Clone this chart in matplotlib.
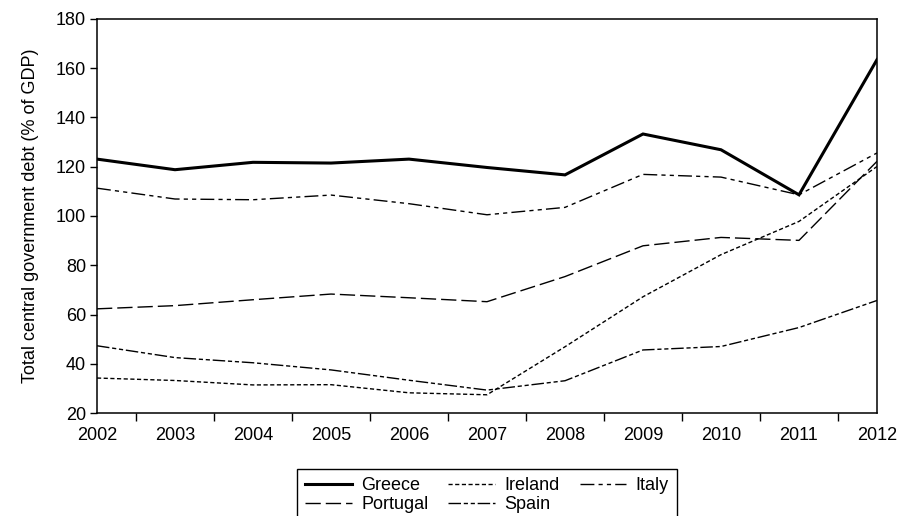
import numpy as np
import matplotlib.pyplot as plt
import matplotlib as mpl

# central government debt, % of GDP
years = np.arange(2002, 2013)
greece = [123.1, 118.8, 121.8, 121.5, 123.1, 119.7, 116.7, 133.3, 126.9, 108.6, 163.5]
ireland = [34.2, 33.2, 31.4, 31.5, 28.2, 27.4, 46.9, 67.2, 84.3, 97.8, 120.1]
italy = [111.3, 106.9, 106.6, 108.5, 105.0, 100.5, 103.5, 116.9, 115.8, 108.6, 125.6]
portugal = [62.3, 63.6, 66.0, 68.3, 66.8, 65.2, 75.4, 87.9, 91.3, 90.1, 122.2]
spain = [47.3, 42.5, 40.4, 37.5, 33.3, 29.3, 33.1, 45.6, 47.0, 54.7, 65.7]

mpl.rcParams['font.family'] = ['Liberation Sans', 'DejaVu Sans']
mpl.rcParams['font.size'] = 13
mpl.rcParams['lines.scale_dashes'] = False

fig = plt.figure(figsize=(8.99, 5.16), dpi=100)
ax = fig.add_axes([97/899, 1-413/516, 780/899, 394/516])

lg, = ax.plot(years, greece, color='black', lw=2.2, solid_joinstyle='miter')
li, = ax.plot(years, ireland, color='black', lw=1.0, dashes=(3, 1.8))
lt, = ax.plot(years, italy, color='black', lw=1.0, dashes=(10, 3, 3, 3, 3, 3))
lp, = ax.plot(years, portugal, color='black', lw=1.0, dashes=(11, 3.6))
ls, = ax.plot(years, spain, color='black', lw=1.0, dashes=(9, 2, 3, 2, 3, 2))

ax.set_xlim(2002, 2012)
ax.set_ylim(20, 180)
ax.set_yticks(np.arange(20, 181, 20))
ax.set_xticks(years)
ax.set_xticks(np.arange(2002.5, 2012, 1), minor=True)
ax.tick_params(axis='x', which='major', length=0, pad=10)
ax.tick_params(axis='x', which='minor', length=6, width=1, direction='out')
ax.tick_params(axis='y', length=5, width=1, direction='out', pad=3)
for s in ax.spines.values():
    s.set_linewidth(1.1)

ax.set_ylabel('Total central government debt (% of GDP)', labelpad=12)

leg = fig.legend([lg, lp, li, ls, lt], ['Greece', 'Portugal', 'Ireland', 'Spain', 'Italy'],
                 ncol=3, loc='upper center', bbox_to_anchor=(487/899, 1-469/516),
                 frameon=True, fancybox=False, edgecolor='black', framealpha=1,
                 handlelength=2.6, handletextpad=0.5, columnspacing=1.1,
                 labelspacing=0.1, borderpad=0.45, borderaxespad=0)
leg.get_frame().set_linewidth(1.0)

fig.savefig('out.png', dpi=100)
